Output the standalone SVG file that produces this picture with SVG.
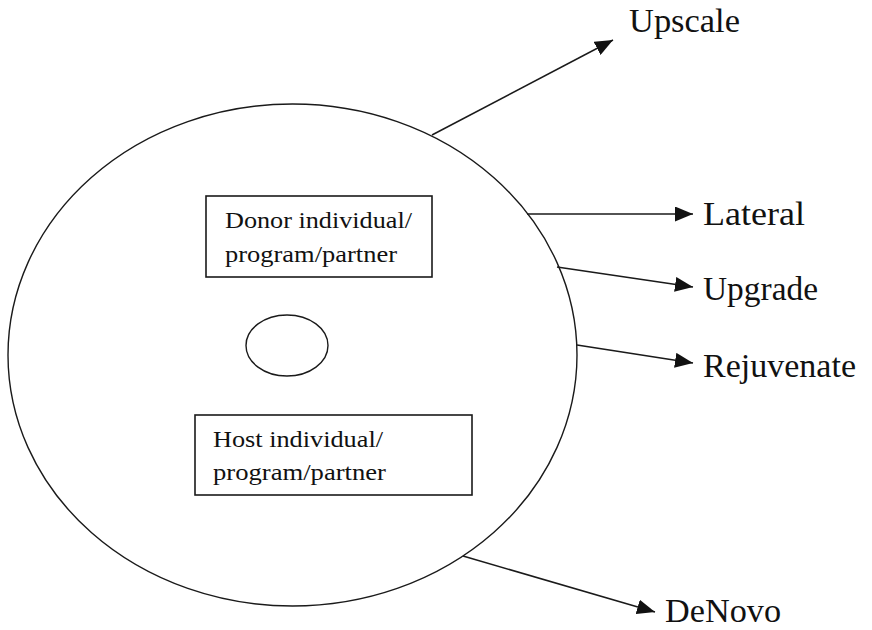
<svg xmlns="http://www.w3.org/2000/svg" width="872" height="630" viewBox="0 0 872 630">
<style>
.shape{fill:none;stroke:#1a1a1a;stroke-width:1.4}
.box{fill:#fff;stroke:#1a1a1a;stroke-width:1.6}
.conn{fill:none;stroke:#1a1a1a;stroke-width:1.5}
.t{font-family:"Liberation Serif","Times New Roman",serif;fill:#111}
.small{font-size:24px}
.lab{font-size:33px}
</style>
<defs>
<marker id="ah" markerUnits="userSpaceOnUse" markerWidth="19" markerHeight="15" refX="18" refY="7.5" orient="auto">
<path d="M0,0 L18,7.5 L0,15 Z" fill="#111"/>
</marker>
</defs>
<rect width="872" height="630" fill="#fff"/>
<g id="outer">
<ellipse class="shape" cx="292.5" cy="355" rx="284.5" ry="251"/>
</g>
<g id="donor">
<rect class="box" x="206" y="196" width="226" height="81"/>
<text class="t small" x="225" y="228" textLength="187" lengthAdjust="spacingAndGlyphs">Donor individual/</text>
<text class="t small" x="225" y="262" textLength="172" lengthAdjust="spacingAndGlyphs">program/partner</text>
</g>
<g id="center">
<ellipse class="shape" cx="287" cy="345.5" rx="41" ry="30.5"/>
</g>
<g id="host">
<rect class="box" x="195" y="415" width="277" height="80"/>
<text class="t small" x="213" y="447" textLength="170" lengthAdjust="spacingAndGlyphs">Host individual/</text>
<text class="t small" x="213" y="480" textLength="173" lengthAdjust="spacingAndGlyphs">program/partner</text>
</g>
<g id="connectors">
<line class="conn" x1="432" y1="135" x2="613" y2="40" marker-end="url(#ah)"/>
<line class="conn" x1="527" y1="214" x2="693" y2="214" marker-end="url(#ah)"/>
<line class="conn" x1="557" y1="267" x2="693" y2="287" marker-end="url(#ah)"/>
<line class="conn" x1="577" y1="345" x2="693" y2="363" marker-end="url(#ah)"/>
<line class="conn" x1="463" y1="556" x2="655" y2="612" marker-end="url(#ah)"/>
</g>
<g id="upscale"><text class="t lab" x="629" y="32" textLength="111" lengthAdjust="spacingAndGlyphs">Upscale</text></g>
<g id="lateral"><text class="t lab" x="703" y="225" textLength="102" lengthAdjust="spacingAndGlyphs">Lateral</text></g>
<g id="upgrade"><text class="t lab" x="703" y="300" textLength="115" lengthAdjust="spacingAndGlyphs">Upgrade</text></g>
<g id="rejuvenate"><text class="t lab" x="703" y="377" textLength="153" lengthAdjust="spacingAndGlyphs">Rejuvenate</text></g>
<g id="denovo"><text class="t lab" x="665" y="622" textLength="116" lengthAdjust="spacingAndGlyphs">DeNovo</text></g>
</svg>
